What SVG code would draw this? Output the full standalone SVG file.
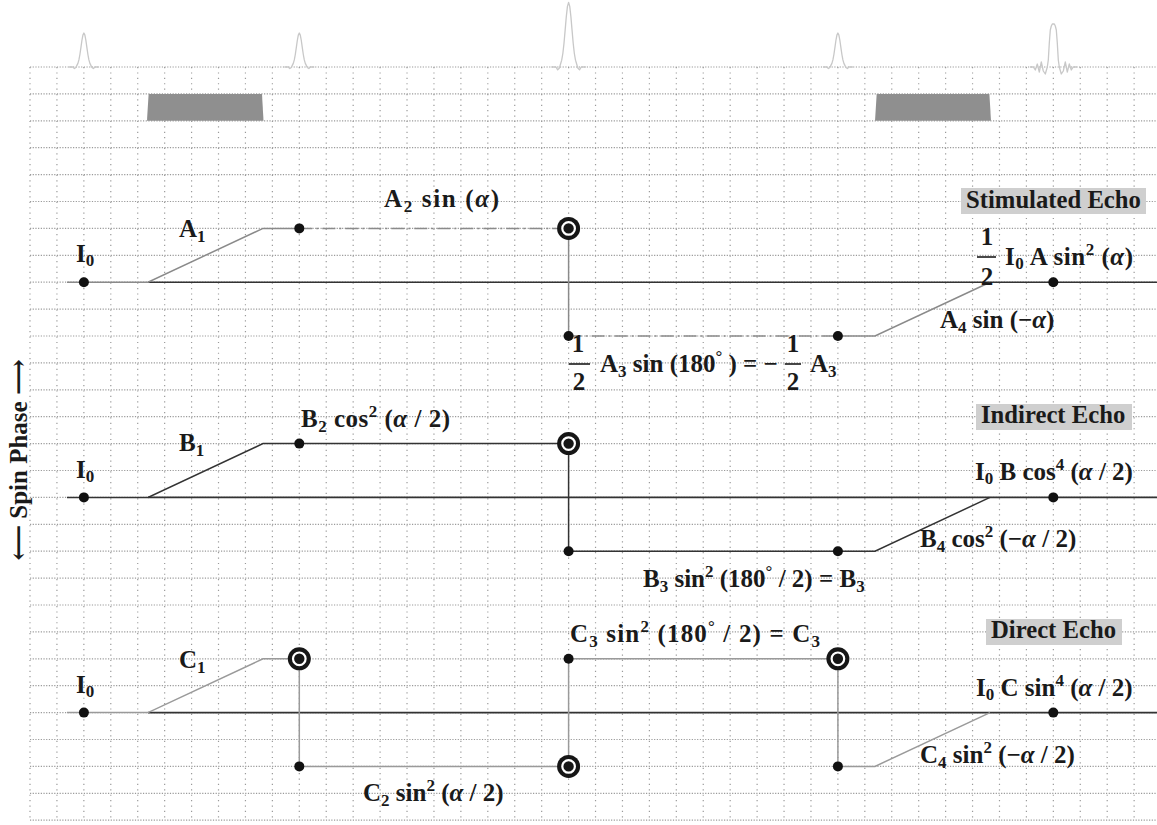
<svg xmlns="http://www.w3.org/2000/svg" width="1157" height="825" viewBox="0 0 1157 825">
  <style>
    .grid-h { stroke:#9a9a9a; stroke-width:1.2; stroke-dasharray:1.2 1.49; fill:none }
    .grid-v { stroke:#9a9a9a; stroke-width:1.2; stroke-dasharray:1.2 4.19; fill:none }
    .rf { stroke:#c8c8c8; stroke-width:1.3; fill:none; stroke-linejoin:round }
    .grad { fill:#8f8f8f }
    .axis { stroke:#333; stroke-width:1.6; fill:none }
    .pa { stroke:#8a8a8a; stroke-width:1.5; fill:none }
    .pa-dd { stroke:#8a8a8a; stroke-width:1.5; fill:none; stroke-dasharray:13 4 2 4 }
    .pb { stroke:#333; stroke-width:1.5; fill:none }
    .pc { stroke:#9a9a9a; stroke-width:1.5; fill:none }
    .dot { fill:#111 }
    .lbl { font-family:"Liberation Serif","Times New Roman","DejaVu Serif",serif; font-weight:bold; font-size:25px; fill:#1a1a1a }
    .ttl { font-size:24.7px }
    .sm { font-size:17px }
    .it { font-style:italic }
    .tbox { fill:#cfcfcf }
    .bar { stroke:#1a1a1a; stroke-width:1.6 }
  </style>
  <defs>
    <path id="pulse" d="M-15,0 L-11,0 L-9.5,1.5 L-8,0.5 L-7,-1.6 L-6,-3.6 L-5,-7.1 L-4,-12.5 L-3,-19.4 L-2,-26.5 L-1,-31.9 L0,-34 L1,-31.9 L2,-26.5 L3,-19.4 L4,-12.5 L5,-7.1 L6,-3.6 L7,-1.6 L8,0.5 L9.5,1.5 L11,0 L15,0" vector-effect="non-scaling-stroke"/>
    <g id="ring">
      <circle r="11.5" fill="#161616"/>
      <circle r="6.3" fill="none" stroke="#fff" stroke-width="2.2"/>
    </g>
  </defs>

  <!-- dotted grid -->
  <g id="grid">
    <path class="grid-h" d="M30,67H1157 M30,93.9H1157 M30,120.8H1157 M30,147.7H1157 M30,174.6H1157 M30,201.5H1157 M30,228.4H1157 M30,255.3H1157 M30,282.2H1157 M30,309.1H1157 M30,336H1157 M30,362.9H1157 M30,389.8H1157 M30,416.7H1157 M30,443.6H1157 M30,470.5H1157 M30,497.4H1157 M30,524.3H1157 M30,551.2H1157 M30,578.1H1157 M30,605H1157 M30,631.9H1157 M30,658.8H1157 M30,685.7H1157 M30,712.6H1157 M30,739.5H1157 M30,766.4H1157 M30,793.3H1157 M30,820.2H1157"/>
    <path class="grid-v" d="M30,67V821 M56.93,67V821 M83.86,67V821 M110.79,67V821 M137.72,67V821 M164.65,67V821 M191.58,67V821 M218.51,67V821 M245.44,67V821 M272.37,67V821 M299.3,67V821 M326.23,67V821 M353.16,67V821 M380.09,67V821 M407.02,67V821 M433.95,67V821 M460.88,67V821 M487.81,67V821 M514.74,67V821 M541.67,67V821 M568.6,67V821 M595.53,67V821 M622.46,67V821 M649.39,67V821 M676.32,67V821 M703.25,67V821 M730.18,67V821 M757.11,67V821 M784.04,67V821 M810.97,67V821 M837.9,67V821 M864.83,67V821 M891.76,67V821 M918.69,67V821 M945.62,67V821 M972.55,67V821 M999.48,67V821 M1026.41,67V821 M1053.34,67V821 M1080.27,67V821 M1107.2,67V821 M1134.13,67V821"/>
  </g>

  <!-- RF pulses and echo signal -->
  <g id="rf">
    <use href="#pulse" class="rf" transform="translate(83.9,67)"/>
    <use href="#pulse" class="rf" transform="translate(299.3,67)"/>
    <use href="#pulse" class="rf" transform="translate(568.6,67) scale(1.15,1.9)"/>
    <use href="#pulse" class="rf" transform="translate(837.9,67)"/>
    <path class="rf" d="M1030,67 L1033.3,67 L1035.3,70 L1037.3,64 L1039.3,72 L1041.3,62 L1043.3,71 L1045.3,74 L1047.3,67 L1048.3,60 L1049.3,43 L1050.3,30 L1051.3,26 L1052.3,24 L1053.3,24 L1054.3,24 L1055.3,26 L1056.3,30 L1057.3,43 L1058.3,60 L1059.3,67 L1061.3,74 L1063.3,71 L1065.3,62 L1067.3,72 L1069.3,64 L1071.3,70 L1073.3,67 L1077,67"/>
  </g>

  <!-- gradient lobes -->
  <g id="gradients">
    <polygon class="grad" points="147,120.8 148.6,93.9 262,93.9 263.5,120.8"/>
    <polygon class="grad" points="875,120.8 876.7,93.9 989.4,93.9 991,120.8"/>
  </g>

  <!-- phase axes -->
  <g id="axes">
    <line class="axis" x1="148" y1="282.2" x2="1157" y2="282.2"/>
    <line class="axis" x1="148" y1="497.4" x2="1157" y2="497.4"/>
    <line class="axis" x1="148" y1="712.6" x2="1157" y2="712.6"/>
  </g>

  <!-- spin phase trajectories -->
  <g id="connectors">
    <!-- stimulated echo path -->
    <polyline class="pa" points="67,282.2 148,282.2 263,228.4 299.3,228.4"/>
    <line class="pa-dd" x1="299.3" y1="228.4" x2="557" y2="228.4"/>
    <line class="pa" x1="568.6" y1="228.4" x2="568.6" y2="336"/>
    <line class="pa-dd" x1="568.6" y1="336" x2="837.9" y2="336"/>
    <polyline class="pa" points="837.9,336 875,336 990,282.2"/>
    <!-- indirect echo path -->
    <polyline class="pb" points="67,497.4 148,497.4 263,443.6 568.6,443.6 568.6,551.2 875,551.2 990,497.4"/>
    <!-- direct echo path -->
    <polyline class="pc" points="67,712.6 148,712.6 263,658.8 299.3,658.8 299.3,766.4 568.6,766.4"/>
    <polyline class="pc" points="568.6,766.4 568.6,658.8 837.9,658.8 837.9,766.4 875,766.4 990,712.6"/>
  </g>

  <!-- stimulated echo nodes -->
  <g id="stimulated">
    <circle class="dot" cx="83.9" cy="282.2" r="5"/>
    <circle class="dot" cx="299.3" cy="228.4" r="5"/>
    <use href="#ring" x="568.6" y="228.4"/>
    <circle class="dot" cx="568.6" cy="336" r="5"/>
    <circle class="dot" cx="837.9" cy="336" r="5"/>
    <circle class="dot" cx="1053.3" cy="282.2" r="5"/>
    <text class="lbl" x="76" y="262">I<tspan class="sm" dy="4">0</tspan></text>
    <text class="lbl" x="179" y="237">A<tspan class="sm" dy="5">1</tspan></text>
    <text class="lbl" x="384" y="207" textLength="115" lengthAdjust="spacing">A<tspan class="sm" dy="5">2</tspan><tspan dy="-5"> sin (</tspan><tspan class="it">α</tspan>)</text>
    <rect class="tbox" x="961" y="188" width="185" height="26"/>
    <text class="lbl ttl" x="966" y="208">Stimulated Echo</text>
    <text class="lbl" x="987" y="245" text-anchor="middle">1</text>
    <line class="bar" x1="977" y1="257" x2="996" y2="257"/>
    <text class="lbl" x="987" y="285" text-anchor="middle">2</text>
    <text class="lbl" x="1005" y="265" textLength="128" lengthAdjust="spacing">I<tspan class="sm" dy="4">0</tspan><tspan dy="-4"> A sin</tspan><tspan class="sm" dy="-10">2</tspan><tspan dy="10"> (</tspan><tspan class="it">α</tspan>)</text>
    <text class="lbl" x="940" y="328">A<tspan class="sm" dy="5">4</tspan><tspan dy="-5"> sin (−</tspan><tspan class="it">α</tspan>)</text>
    <text class="lbl" x="578" y="352" text-anchor="middle">1</text>
    <line class="bar" x1="569" y1="364" x2="590" y2="364"/>
    <text class="lbl" x="579" y="390" text-anchor="middle">2</text>
    <text class="lbl" x="600" y="372">A<tspan class="sm" dy="5">3</tspan><tspan dy="-5"> sin (180</tspan><tspan class="sm" dy="-10">°</tspan><tspan dy="10"> ) = −</tspan></text>
    <text class="lbl" x="793" y="352" text-anchor="middle">1</text>
    <line class="bar" x1="785" y1="364" x2="801" y2="364"/>
    <text class="lbl" x="793" y="390" text-anchor="middle">2</text>
    <text class="lbl" x="810" y="372">A<tspan class="sm" dy="5">3</tspan></text>
  </g>

  <!-- indirect echo nodes -->
  <g id="indirect">
    <circle class="dot" cx="83.9" cy="497.4" r="5"/>
    <circle class="dot" cx="299.3" cy="443.6" r="5"/>
    <use href="#ring" x="568.6" y="443.6"/>
    <circle class="dot" cx="568.6" cy="551.2" r="5"/>
    <circle class="dot" cx="837.9" cy="551.2" r="5"/>
    <circle class="dot" cx="1053.3" cy="497.4" r="5"/>
    <text class="lbl" x="76" y="478">I<tspan class="sm" dy="4">0</tspan></text>
    <text class="lbl" x="179" y="451">B<tspan class="sm" dy="5">1</tspan></text>
    <text class="lbl" x="301" y="427" textLength="149" lengthAdjust="spacing">B<tspan class="sm" dy="5">2</tspan><tspan dy="-5"> cos</tspan><tspan class="sm" dy="-10">2</tspan><tspan dy="10"> (</tspan><tspan class="it">α</tspan> / 2)</text>
    <rect class="tbox" x="976" y="404" width="156" height="26"/>
    <text class="lbl ttl" x="981" y="423">Indirect Echo</text>
    <text class="lbl" x="975" y="480">I<tspan class="sm" dy="4">0</tspan><tspan dy="-4"> B cos</tspan><tspan class="sm" dy="-10">4</tspan><tspan dy="10"> (</tspan><tspan class="it">α</tspan> / 2)</text>
    <text class="lbl" x="920" y="547">B<tspan class="sm" dy="5">4</tspan><tspan dy="-5"> cos</tspan><tspan class="sm" dy="-10">2</tspan><tspan dy="10"> (−</tspan><tspan class="it">α</tspan> / 2)</text>
    <text class="lbl" x="643" y="587">B<tspan class="sm" dy="5">3</tspan><tspan dy="-5"> sin</tspan><tspan class="sm" dy="-10">2</tspan><tspan dy="10"> (180</tspan><tspan class="sm" dy="-10">°</tspan><tspan dy="10"> / 2) = B</tspan><tspan class="sm" dy="5">3</tspan></text>
  </g>

  <!-- direct echo nodes -->
  <g id="direct">
    <circle class="dot" cx="83.9" cy="712.6" r="5"/>
    <use href="#ring" x="299.3" y="658.8"/>
    <circle class="dot" cx="299.3" cy="766.4" r="5"/>
    <use href="#ring" x="568.6" y="766.4"/>
    <circle class="dot" cx="568.6" cy="658.8" r="5"/>
    <use href="#ring" x="837.9" y="658.8"/>
    <circle class="dot" cx="837.9" cy="766.4" r="5"/>
    <circle class="dot" cx="1053.3" cy="712.6" r="5"/>
    <text class="lbl" x="76" y="693">I<tspan class="sm" dy="4">0</tspan></text>
    <text class="lbl" x="179" y="668">C<tspan class="sm" dy="5">1</tspan></text>
    <text class="lbl" x="570" y="642" textLength="250" lengthAdjust="spacing">C<tspan class="sm" dy="5">3</tspan><tspan dy="-5"> sin</tspan><tspan class="sm" dy="-10">2</tspan><tspan dy="10"> (180</tspan><tspan class="sm" dy="-10">°</tspan><tspan dy="10"> / 2) = C</tspan><tspan class="sm" dy="5">3</tspan></text>
    <rect class="tbox" x="986" y="619" width="136" height="26"/>
    <text class="lbl ttl" x="991" y="638">Direct Echo</text>
    <text class="lbl" x="976" y="696">I<tspan class="sm" dy="4">0</tspan><tspan dy="-4"> C sin</tspan><tspan class="sm" dy="-10">4</tspan><tspan dy="10"> (</tspan><tspan class="it">α</tspan> / 2)</text>
    <text class="lbl" x="920" y="763">C<tspan class="sm" dy="5">4</tspan><tspan dy="-5"> sin</tspan><tspan class="sm" dy="-10">2</tspan><tspan dy="10"> (−</tspan><tspan class="it">α</tspan> / 2)</text>
    <text class="lbl" x="363" y="801">C<tspan class="sm" dy="5">2</tspan><tspan dy="-5"> sin</tspan><tspan class="sm" dy="-10">2</tspan><tspan dy="10"> (</tspan><tspan class="it">α</tspan> / 2)</text>
  </g>

  <!-- vertical axis caption -->
  <g id="axis-label">
    <text class="lbl" transform="translate(27,460) rotate(-90)" text-anchor="middle">⟵ Spin Phase ⟶</text>
  </g>
</svg>
